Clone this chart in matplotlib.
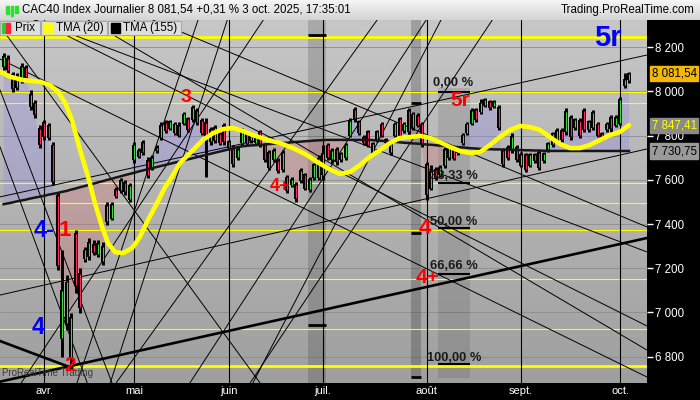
import numpy as np
import matplotlib
matplotlib.use("Agg")
import matplotlib.pyplot as plt
import matplotlib.transforms as mtransforms
from matplotlib.patches import Rectangle
from matplotlib.colors import LinearSegmentedColormap

plt.rcParams['font.family'] = ['Liberation Sans', 'DejaVu Sans']

# daily bars, index 0 = 19 mars 2025 ... index 139 = 3 oct. 2025
opens = [8110, 8150, 8080, 8015, 8050, 8110, 7930, 7950, 7835, 7860,
         7850, 7760, 7530, 6880, 6950, 6790, 7360, 7180, 7240, 7250,
         7310, 7260, 7230, 7410, 7425, 7560, 7550, 7590, 7510, 7690,
         7735, 7770, 7690, 7655, 7730, 7790, 7860, 7830, 7810, 7850,
         7855, 7880, 7870, 7915, 7870, 7860, 7770, 7775, 7810, 7850,
         7775, 7745, 7700, 7765, 7810, 7775, 7765, 7820, 7760, 7725,
         7690, 7690, 7645, 7615, 7575, 7580, 7595, 7625, 7555, 7610,
         7610, 7620, 7760, 7690, 7740, 7690, 7700, 7800, 7920, 7865,
         7795, 7820, 7720, 7780, 7855, 7785, 7720, 7800, 7880, 7820,
         7915, 7835, 7895, 7855, 7670, 7560, 7650, 7620, 7665, 7700,
         7745, 7720, 7765, 7810, 7855, 7920, 7905, 7935, 7955, 7930,
         7930, 7735, 7750, 7730, 7750, 7665, 7715, 7665, 7715, 7725,
         7685, 7735, 7760, 7775, 7825, 7815, 7885, 7835, 7870, 7915,
         7825, 7835, 7855, 7810, 7825, 7885, 7845, 7855, 8025, 8050]
highs = [8175, 8165, 8088, 8084, 8129, 8120, 8007, 7962, 7848, 7871,
         7857, 7771, 7545, 7283, 7170, 6998, 7373, 7200, 7297, 7337,
         7328, 7328, 7319, 7500, 7500, 7568, 7609, 7600, 7586, 7771,
         7744, 7781, 7704, 7713, 7758, 7862, 7871, 7871, 7862, 7862,
         7907, 7885, 7939, 7925, 7880, 7880, 7839, 7848, 7817, 7857,
         7781, 7758, 7749, 7835, 7817, 7812, 7803, 7826, 7767, 7735,
         7744, 7699, 7735, 7622, 7613, 7590, 7654, 7631, 7613, 7676,
         7713, 7758, 7767, 7744, 7749, 7726, 7767, 7880, 7930, 7871,
         7803, 7826, 7771, 7826, 7862, 7790, 7767, 7862, 7885, 7862,
         7925, 7907, 7903, 7862, 7681, 7667, 7658, 7667, 7749, 7758,
         7749, 7749, 7812, 7862, 7925, 7925, 7968, 7970, 7962, 7962,
         7939, 7744, 7758, 7812, 7758, 7726, 7722, 7722, 7722, 7735,
         7726, 7771, 7817, 7835, 7835, 7925, 7894, 7880, 7880, 7925,
         7871, 7916, 7862, 7817, 7862, 7894, 7894, 7975, 8084, 8088]
lows = [8097, 8084, 7998, 8007, 8038, 8052, 7916, 7880, 7744, 7781,
        7781, 7577, 7192, 6800, 6921, 6763, 7090, 6998, 7230, 7238,
        7260, 7251, 7215, 7396, 7419, 7518, 7541, 7532, 7500, 7676,
        7699, 7713, 7609, 7645, 7722, 7781, 7812, 7826, 7803, 7794,
        7848, 7817, 7862, 7848, 7803, 7613, 7758, 7767, 7758, 7758,
        7735, 7658, 7690, 7758, 7758, 7767, 7758, 7749, 7681, 7645,
        7681, 7631, 7636, 7541, 7568, 7500, 7586, 7554, 7545, 7600,
        7600, 7600, 7690, 7676, 7667, 7681, 7690, 7794, 7862, 7803,
        7758, 7749, 7713, 7771, 7794, 7758, 7713, 7794, 7790, 7812,
        7803, 7826, 7839, 7749, 7509, 7554, 7600, 7613, 7654, 7690,
        7690, 7713, 7758, 7803, 7848, 7862, 7900, 7930, 7916, 7925,
        7826, 7658, 7690, 7722, 7681, 7658, 7636, 7658, 7676, 7645,
        7676, 7726, 7749, 7767, 7771, 7803, 7781, 7826, 7790, 7817,
        7817, 7826, 7794, 7781, 7817, 7817, 7839, 7848, 8016, 8038]
closes = [8160, 8095, 8010, 8070, 8115, 8060, 7990, 7895, 7760, 7795,
          7790, 7590, 7210, 7100, 7140, 6980, 7120, 7020, 7285, 7320,
          7270, 7315, 7300, 7485, 7490, 7525, 7600, 7545, 7575, 7760,
          7705, 7720, 7620, 7705, 7750, 7850, 7820, 7865, 7855, 7800,
          7900, 7825, 7930, 7860, 7810, 7790, 7830, 7840, 7765, 7770,
          7745, 7670, 7740, 7825, 7765, 7805, 7795, 7755, 7690, 7655,
          7735, 7640, 7725, 7550, 7605, 7515, 7645, 7560, 7605, 7670,
          7700, 7720, 7700, 7735, 7680, 7720, 7760, 7870, 7875, 7810,
          7765, 7755, 7765, 7820, 7800, 7765, 7760, 7855, 7800, 7855,
          7815, 7900, 7845, 7760, 7530, 7640, 7610, 7660, 7740, 7750,
          7695, 7745, 7805, 7855, 7915, 7870, 7950, 7965, 7925, 7955,
          7835, 7670, 7700, 7800, 7690, 7715, 7645, 7715, 7685, 7655,
          7720, 7765, 7810, 7825, 7780, 7910, 7795, 7875, 7800, 7825,
          7865, 7905, 7800, 7790, 7855, 7830, 7885, 7965, 8056, 8081.54]

# TMA (155), one value per bar
tma155 = [7490, 7494, 7498, 7503, 7507, 7511, 7516, 7520, 7524, 7528,
          7533, 7537, 7541, 7546, 7550, 7556, 7561, 7567, 7572, 7578,
          7583, 7589, 7594, 7600, 7605, 7611, 7616, 7622, 7627, 7632,
          7638, 7643, 7648, 7653, 7658, 7663, 7668, 7673, 7678, 7683,
          7688, 7693, 7698, 7703, 7708, 7713, 7718, 7723, 7728, 7733,
          7738, 7743, 7748, 7752, 7754, 7756, 7757, 7759, 7760, 7762,
          7764, 7765, 7767, 7768, 7770, 7772, 7773, 7775, 7776, 7778,
          7779, 7780, 7781, 7781, 7781, 7781, 7781, 7781, 7781, 7781,
          7781, 7781, 7780, 7778, 7777, 7775, 7773, 7772, 7770, 7768,
          7767, 7765, 7764, 7762, 7760, 7759, 7757, 7755, 7754, 7752,
          7750, 7748, 7747, 7745, 7743, 7742, 7740, 7739, 7739, 7738,
          7738, 7737, 7737, 7736, 7735, 7735, 7734, 7734, 7733, 7733,
          7732, 7731, 7731, 7731, 7731, 7731, 7731, 7731, 7731, 7731,
          7731, 7731, 7731, 7731, 7731, 7731, 7731, 7731, 7731, 7730.75]

# TMA (20)
tma20_x = [-0.8, 1.4, 4.3, 8.1, 10.3, 12.1, 13.7, 15.2, 17.0, 18.8, 20.3, 21.9,
           23.2, 24.8, 26.6, 28.6, 30.3, 32.1, 34.1, 35.9, 37.0, 39.2, 42.1,
           44.3, 46.6, 48.8, 51.0, 53.2, 55.4, 58.6, 61.4, 64.3, 67.4, 69.7,
           72.3, 74.8, 77.0, 79.2, 81.4, 83.7, 85.9, 88.1, 90.3, 92.6, 94.8,
           97.0, 99.2, 101.4, 103.7, 105.9, 108.1, 110.3, 112.6, 114.8, 117.0,
           119.2, 121.4, 123.7, 125.9, 128.1, 130.3, 132.6, 134.8, 137.0, 139.0]
tma20_y = [8090, 8067, 8052, 8044, 8029, 7999, 7948, 7871, 7735, 7613, 7495, 7387,
           7314, 7273, 7269, 7292, 7342, 7419, 7495, 7568, 7600, 7676, 7735,
           7781, 7812, 7830, 7835, 7821, 7803, 7781, 7767, 7744, 7713, 7681,
           7650, 7627, 7636, 7667, 7704, 7735, 7767, 7790, 7794, 7799, 7790,
           7771, 7749, 7731, 7722, 7726, 7758, 7794, 7826, 7844, 7839,
           7826, 7794, 7762, 7744, 7744, 7758, 7781, 7803, 7817, 7847.41]

month_idx = [9, 29, 50, 71, 94, 115, 137]
month_labels = ["avr.", "mai", "juin", "juil.", "août", "sept.", "oct."]
price_ticks = [6800, 7000, 7200, 7400, 7600, 7800, 8000, 8200]

# horizontal levels (yellow)
yellow_levels = [7998, 7949, 7585, 7494, 7373, 7150, 6924]
yellow_thick = [8248, 6760]

# fibonacci retracement 0 % .. 100 %
fib_labels = ["0,00 %", "33,33 %", "50,00 %", "66,66 %", "100,00 %"]
fib_levels = [7998, 7587, 7381, 7176, 6765]

# trend lines: ((bar, price), (bar, price))
thin_lines = [
    ((-0.8, 7523), (143, 8165)),
    ((-0.8, 7079), (143, 7740)),
    ((-0.8, 8382), (143, 7274)),
    ((33.2, 8323), (143, 7387)),
    ((7.2, 8323), (143, 6939)),
    ((-0.8, 8147), (143, 6708)),
    ((18.8, 8323), (143, 6830)),
    ((-0.8, 8007), (24.1, 6681)),
    ((-0.8, 7749), (18.6, 6681)),
    ((-0.8, 8296), (57.0, 6681)),
    ((3.9, 6681), (57.7, 8323)),
    ((25.0, 6681), (83.0, 8323)),
    ((41.4, 6681), (93.9, 8323)),
    ((55.4, 6681), (97.2, 8323)),
    ((54.8, 6681), (108.6, 8323)),
    ((16.3, 6681), (43.2, 8323)),
    ((23.7, 6681), (49.7, 8323)),
]
thick_lines = [
    ((-0.8, 6687), (143, 7337)),
    ((-0.8, 6871), (15.2, 6749)),
]

# labels drawn on the chart: (text, bar, price, colour, size)
waves = [
    ("5r", 134.3, 8242, "#0000ff", 21),
    ("3", 40.6, 7975, "#ff0000", 14),
    ("4-", 9.0, 7373, "#0000ff", 17),
    ("1", 13.7, 7373, "#ff0000", 16),
    ("4", 7.7, 6934, "#0000ff", 17),
    ("2", 14.8, 6758, "#ff0000", 15),
    ("4+", 61.4, 7568, "#ff0000", 13),
    ("5r", 101.4, 7961, "#ff0000", 15),
    ("4", 93.6, 7382, "#ff0000", 16),
    ("4+", 94.3, 7160, "#ff0000", 15),
]

idx = np.arange(len(closes))
o = np.array(opens, float)
h = np.array(highs, float)
l = np.array(lows, float)
c = np.array(closes, float)
t155 = np.array(tma155, float)

XMIN, XMAX = -0.8, 143.0
YMIN, YMAX = 6681, 8323.5

fig = plt.figure(figsize=(7, 4), dpi=100, facecolor="black")
ax = fig.add_axes([0, 17 / 400, 647 / 700, 363 / 400])
ax.set_xlim(XMIN, XMAX)
ax.set_ylim(YMIN, YMAX)

bg = LinearSegmentedColormap.from_list("bg", ["#c7c7c7", "#9f9f9f"])
ax.imshow(np.linspace(0, 1, 256).reshape(-1, 1), cmap=bg, aspect="auto",
          extent=[XMIN, XMAX, YMIN, YMAX], origin="upper", zorder=0)

for p in price_ticks:
    ax.axhline(p, color="#8c8c8c", lw=0.6, zorder=1)

# shaded zones
ax.fill_between([67.7, 71.7], YMIN, YMAX, color="black", alpha=0.15, lw=0, zorder=1.2)
ax.fill_between([90.6, 92.8], 6704, YMAX, color="black", alpha=0.2, lw=0, zorder=1.2)
ax.fill_between([96.6, 103.7], 6704, 8016, color="black", alpha=0.1, lw=0, zorder=1.2)
ax.hlines([8256, 6943], 67.7, 71.7, color="black", lw=2, zorder=3)
ax.hlines([7948, 7360, 6706], 90.6, 92.8, color="black", lw=2, zorder=3)
ax.hlines(fib_levels, 96.6, 103.7, color="black", lw=1.5, zorder=3)

# area between price and TMA 155
ax.fill_between(idx, c, t155, where=c >= t155, interpolate=True,
                color="#9187eb", alpha=0.3, lw=0, zorder=2)
ax.fill_between(idx, c, t155, where=c < t155, interpolate=True,
                color="#d57171", alpha=0.3, lw=0, zorder=2)

for lv in yellow_levels:
    ax.axhline(lv, color="#ffff00", lw=0.8, zorder=2.5)
for lv in yellow_thick:
    ax.axhline(lv, color="#ffff00", lw=2.0, zorder=2.5)

for m in month_idx:
    ax.axvline(m, color="black", lw=0.8, zorder=2.6)

for (x0, y0), (x1, y1) in thin_lines:
    ax.plot([x0, x1], [y0, y1], color="black", lw=0.7, zorder=3)
for (x0, y0), (x1, y1) in thick_lines:
    ax.plot([x0, x1], [y0, y1], color="black", lw=1.9, zorder=3)

# candles: black bar with a thin coloured core on the body
ax.vlines(idx, l, h, color="black", lw=2.1, zorder=4)
ax.bar(idx, np.abs(c - o), bottom=np.minimum(o, c), width=0.85,
       color="black", lw=0, zorder=4.1)
core_col = np.where(c >= o, "#33e033", "#ff2a55")
ax.vlines(idx, np.minimum(o, c) + 4, np.maximum(o, c) - 4, color=core_col,
          lw=0.8, zorder=4.2)

ax.plot(idx, t155, color="#161616", lw=1.8, zorder=5)
ax.plot(tma20_x, tma20_y, color="#ffff00", lw=3.3, zorder=5.1,
        solid_capstyle="round", solid_joinstyle="round")

for txt, x, y, col, size in waves:
    ax.text(x, y, txt, color=col, fontsize=size, fontweight="bold",
            ha="center", va="center", zorder=6)

fib_x = [95.4, 94.8, 94.8, 94.8, 94.2]
fib_y = [8038, 7618, 7410, 7210, 6794]
for txt, x, y in zip(fib_labels, fib_x, fib_y):
    ax.text(x, y, txt, color="#1a1a1a", fontsize=9.3, fontweight="bold",
            ha="left", va="center", zorder=6)

ax.text(0.003, 0.018, "ProRealTime Trading", transform=ax.transAxes,
        fontsize=7, color="#3c3c3c", zorder=5.5)

# axes
for s in ax.spines.values():
    s.set_visible(False)
ax.yaxis.tick_right()
ax.set_yticks(price_ticks)
ax.set_yticklabels(["%d %03d" % (p // 1000, p % 1000) for p in price_ticks])
ax.tick_params(axis="y", colors="white", labelsize=8.3, length=4, width=1, pad=2)
ax.set_xticks(month_idx)
ax.set_xticklabels(month_labels)
ax.tick_params(axis="x", colors="white", labelsize=8, length=0, pad=2.5)

tr = mtransforms.blended_transform_factory(ax.transAxes, ax.transData)
ax.text(1.007, c[-1], "8 081,54", transform=tr, fontsize=8.3, color="black",
        ha="left", va="center", bbox=dict(fc="#f5b800", ec="#f5b800", pad=1.2))
ax.text(1.007, tma20_y[-1], "7 847,41", transform=tr, fontsize=8.3, color="#ffff00",
        ha="left", va="center", bbox=dict(fc="#8a8a8a", ec="#8a8a8a", pad=1.2))
ax.text(1.007, t155[-1], "7 730,75", transform=tr, fontsize=8.3, color="black",
        ha="left", va="center", bbox=dict(fc="#9a9a9a", ec="#9a9a9a", pad=1.2))

# header bar
hax = fig.add_axes([0, 380 / 400, 1, 20 / 400])
hdr = LinearSegmentedColormap.from_list("hdr", ["#f6f6f6", "#d4d4d4"])
hax.imshow(np.linspace(0, 1, 64).reshape(-1, 1), cmap=hdr, aspect="auto",
           extent=[0, 700, 0, 20], origin="upper")
hax.set_xlim(0, 700)
hax.set_ylim(0, 20)
hax.axis("off")
hax.add_patch(Rectangle((6, 6), 2.5, 8, color="#2ee02e"))
hax.add_patch(Rectangle((10.5, 4), 2.5, 10, color="#2ee02e"))
hax.add_patch(Rectangle((15, 7), 2.5, 7, color="#2ee02e"))
hax.text(22, 10, "CAC40 Index Journalier 8 081,54 +0,31 % 3 oct. 2025, 17:35:01",
         fontsize=8.3, va="center", ha="left", color="black")
hax.text(695, 10, "Trading.ProRealTime.com", fontsize=8.3, va="center",
         ha="right", color="black")

# legend boxes
legend = [("Prix", 0, 40), ("TMA (20)", 41, 107), ("TMA (155)", 108, 181)]
for name, x0, x1 in legend:
    fig.patches.append(Rectangle((x0 / 700, 365 / 400), (x1 - x0) / 700, 14 / 400,
                                 transform=fig.transFigure, fc="#dedede",
                                 ec="#a8a8a8", lw=0.8, zorder=10))
    fig.text((x0 + 15) / 700, 372 / 400, name, fontsize=8.3, va="center",
             ha="left", color="black", zorder=11)
fig.patches.append(Rectangle((2 / 700, 367 / 400), 4 / 700, 10 / 400,
                             transform=fig.transFigure, color="#2ecc2e", zorder=11))
fig.patches.append(Rectangle((6 / 700, 367 / 400), 4 / 700, 10 / 400,
                             transform=fig.transFigure, color="#ff2040", zorder=11))
fig.patches.append(Rectangle((44 / 700, 367 / 400), 9 / 700, 10 / 400,
                             transform=fig.transFigure, color="#ffff00", zorder=11))
fig.patches.append(Rectangle((111 / 700, 367 / 400), 9 / 700, 10 / 400,
                             transform=fig.transFigure, color="black", zorder=11))

fig.savefig("out.png", dpi=100, facecolor="black")
